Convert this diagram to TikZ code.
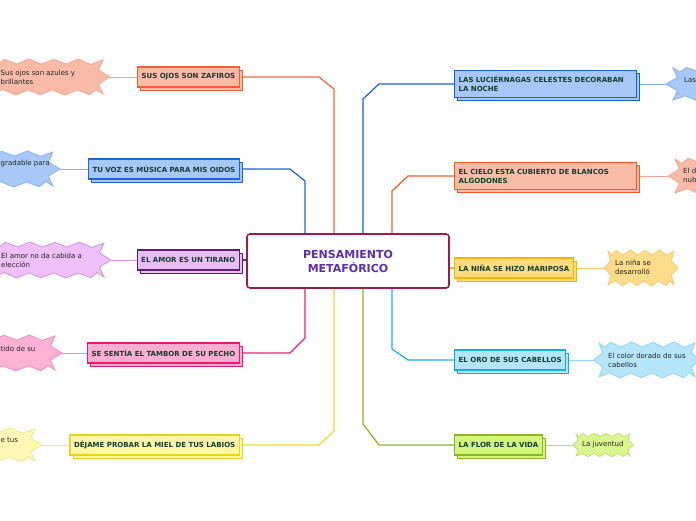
\documentclass[tikz,border=0pt]{standalone}
\usepackage{fontspec}
\setmainfont{DejaVu Sans}
\usetikzlibrary{shadows,calc}
\pgfdeclarelayer{bg}
\pgfsetlayers{bg,main}
% links
\definecolor{lA}{HTML}{F26A3D}\definecolor{lB}{HTML}{1F66D1}\definecolor{lC}{HTML}{6E2C80}
\definecolor{lD}{HTML}{EC1E79}\definecolor{lE}{HTML}{EDD92A}\definecolor{lF}{HTML}{1663D3}
\definecolor{lG}{HTML}{F25C2B}\definecolor{lH}{HTML}{F7B52C}\definecolor{lI}{HTML}{1AAEEA}
\definecolor{lJ}{HTML}{8DB726}
% box fills / borders
\definecolor{fA}{HTML}{F9BCA6}\definecolor{dA}{HTML}{F35E2E}
\definecolor{fB}{HTML}{A7C8F6}\definecolor{dB}{HTML}{1E66D6}
\definecolor{fC}{HTML}{E8BDF4}\definecolor{dC}{HTML}{5E1F70}
\definecolor{fD}{HTML}{F9B0D0}\definecolor{dD}{HTML}{EE1670}
\definecolor{fE}{HTML}{FFF6A6}\definecolor{dE}{HTML}{E9D31E}
\definecolor{fF}{HTML}{A7C8F6}\definecolor{dF}{HTML}{1660DA}
\definecolor{fG}{HTML}{F9BCA6}\definecolor{dG}{HTML}{F3582A}
\definecolor{fH}{HTML}{FEDB7E}\definecolor{dH}{HTML}{F8B400}
\definecolor{fI}{HTML}{B4E5FB}\definecolor{dI}{HTML}{14A9EA}
\definecolor{fJ}{HTML}{D3F57C}\definecolor{dJ}{HTML}{8BB820}
% bursts
\definecolor{sA}{HTML}{F9BBA8}\definecolor{rA}{HTML}{F7A78F}
\definecolor{sB}{HTML}{A8C9F8}\definecolor{rB}{HTML}{86B3F2}
\definecolor{sC}{HTML}{EEBFF9}\definecolor{rC}{HTML}{C99AD6}
\definecolor{sD}{HTML}{FFB2D6}\definecolor{rD}{HTML}{F78DC0}
\definecolor{sE}{HTML}{FFF8B4}\definecolor{rE}{HTML}{F2E58A}
\definecolor{sH}{HTML}{FDDC8B}\definecolor{rH}{HTML}{F6CC6A}
\definecolor{sI}{HTML}{B5E6FC}\definecolor{rI}{HTML}{8ED4F4}
\definecolor{sJ}{HTML}{D9F78F}\definecolor{rJ}{HTML}{BEE06A}
\definecolor{txtg}{HTML}{123D2F}
\definecolor{notetxt}{HTML}{222222}
\definecolor{cb}{HTML}{9E1A4C}
\definecolor{ctext}{HTML}{5C2DB5}
\newcommand\burstshape[5]{%
  \begin{scope}[shift={(#1,#2)},xscale=#3,yscale=#4]
  \filldraw[line width=0.8pt,#5] (1.12,0) -- (0.92,-0.42) -- (1.0,-1.0) -- (0.78,-0.74) -- (0.56,-1.06) -- (0.34,-0.76) -- (0.12,-1.04) -- (-0.1,-0.76) -- (-0.32,-1.06) -- (-0.54,-0.76) -- (-0.76,-1.04) -- (-0.88,-0.74) -- (-1.0,-1.0) -- (-0.92,-0.42) -- (-1.12,0) -- (-0.92,0.42) -- (-1.0,1.0) -- (-0.78,0.74) -- (-0.56,1.06) -- (-0.34,0.76) -- (-0.12,1.04) -- (0.1,0.76) -- (0.32,1.06) -- (0.54,0.76) -- (0.76,1.04) -- (0.88,0.74) -- (1.0,1.0) -- (0.92,0.42) -- cycle;
  \end{scope}}
\tikzset{
  topic/.style 2 args={draw=#1, fill=#2, line width=1.4pt, inner xsep=4pt, inner ysep=3pt,
    minimum height=20pt, text=txtg, font=\bfseries\fontsize{7pt}{9pt}\selectfont, align=left,
    general shadow={shadow xshift=3pt, shadow yshift=-3pt, fill=#2, draw=#1, line width=1pt}},
  wide/.style={text width=174pt, minimum height=27pt},
  note/.style={font=\fontsize{7pt}{9pt}\selectfont, text=notetxt, align=left, inner sep=0pt},
  link/.style={draw=#1, line width=1.2pt},
  sublink/.style={draw=#1, line width=0.9pt},
}
\begin{document}
\begin{tikzpicture}[x=1pt,y=-1pt]
\useasboundingbox (0,0) rectangle (696,520);
\clip (0,0) rectangle (696,520);

% central topic
\node[draw=cb, line width=1.6pt, rounded corners=3pt, fill=white, minimum width=202pt,
  minimum height=54pt, text=ctext, font=\bfseries\fontsize{11pt}{14pt}\selectfont, align=center]
  (c) at (348,261) {PENSAMIENTO\\METAFÓRICO};

% left topics
\node[topic={dA}{fA}, anchor=east] (b1) at (240,77) {SUS OJOS SON ZAFIROS};
\node[topic={dB}{fB}, anchor=east] (b2) at (240,169) {TU VOZ ES MÚSICA PARA MIS OIDOS};
\node[topic={dC}{fC}, anchor=east] (b3) at (240,260) {EL AMOR ES UN TIRANO};
\node[topic={dD}{fD}, anchor=east] (b4) at (240,353) {SE SENTÍA EL TAMBOR DE SU PECHO};
\node[topic={dE}{fE}, anchor=east] (b5) at (240,445) {DÉJAME PROBAR LA MIEL DE TUS LABIOS};
% right topics
\node[topic={dF}{fF}, wide, anchor=west] (b6) at (454,84) {LAS LUCIÉRNAGAS CELESTES DECORABAN\\LA NOCHE};
\node[topic={dG}{fG}, wide, anchor=west] (b7) at (454,176) {EL CIELO ESTA CUBIERTO DE BLANCOS\\ALGODONES};
\node[topic={dH}{fH}, anchor=west] (b8) at (454,268) {LA NIÑA SE HIZO MARIPOSA};
\node[topic={dI}{fI}, anchor=west] (b9) at (454,360) {EL ORO DE SUS CABELLOS};
\node[topic={dJ}{fJ}, anchor=west] (b10) at (454,445) {LA FLOR DE LA VIDA};

% callout texts
\node[note, anchor=west] (n1) at (0.5,77) {Sus ojos son azules y\\brillantes};
\node[note, anchor=west] (n2) at (0.5,164) {gradable para};
\node[note, anchor=west] (n3) at (1,260) {El amor no da cabida a\\elección};
\node[note, anchor=west] (n4) at (0.5,349) {tido de su};
\node[note, anchor=west] (n5) at (0.5,440) {e tus};
\node[note, anchor=west] (n6) at (684,80) {Las};
\node[note, anchor=west] (n7) at (683,175) {El d\\nub};
\node[note, anchor=west] (n8) at (615,267) {La niña se\\desarrolló};
\node[note, anchor=west] (n9) at (608,360) {El color dorado de sus\\cabellos};
\node[note, anchor=west] (n10) at (582,445) {La juventud};

% burst tips
\coordinate (t1) at (110,77);
\coordinate (t2) at (60,169);
\coordinate (t3) at (111,260);
\coordinate (t4) at (62,353);
\coordinate (t5) at (42,445);
\coordinate (t6) at (666,84);
\coordinate (t7) at (668,176);
\coordinate (t8) at (604,268);
\coordinate (t9) at (594,360);
\coordinate (t10) at (573,445);

% bends
\coordinate (j1) at (319,77);  \coordinate (k1) at (334,89);
\coordinate (j2) at (290,169); \coordinate (k2) at (305,181);
\coordinate (j4) at (290,353); \coordinate (k4) at (305,338);
\coordinate (j5) at (319,445); \coordinate (k5) at (334,431);
\coordinate (j6) at (379,84);  \coordinate (k6) at (363,99);
\coordinate (j7) at (408,176); \coordinate (k7) at (392,191);
\coordinate (j9) at (408,360); \coordinate (k9) at (392,349);
\coordinate (j10) at (379,445); \coordinate (k10) at (363,424);

\begin{pgfonlayer}{bg}
\burstshape{47}{77}{56}{17}{fill=sA, draw=rA}
\burstshape{-5}{169}{58}{17}{fill=sB, draw=rB}
\burstshape{48}{260}{56}{17}{fill=sC, draw=rC}
\burstshape{-3}{353}{58}{17}{fill=sD, draw=rD}
\burstshape{-22}{445}{57}{16}{fill=sE, draw=rE}
\burstshape{729}{84}{56}{16}{fill=sB, draw=rB}
\burstshape{731}{176}{56}{17}{fill=sA, draw=rA}
\burstshape{641}{268}{33}{17}{fill=sH, draw=rH}
\burstshape{647}{360}{48}{17}{fill=sI, draw=rI}
\burstshape{603}{445}{27}{11}{fill=sJ, draw=rJ}

\draw[link=lA] (b1.east) -- (j1) -- (k1) -- (k1 |- c.north);
\draw[link=lB] (b2.east) -- (j2) -- (k2) -- (k2 |- c.north);
\draw[link=lC] (b3.east) -- (b3.east -| c.west);
\draw[link=lD] (b4.east) -- (j4) -- (k4) -- (k4 |- c.south);
\draw[link=lE] (b5.east) -- (j5) -- (k5) -- (k5 |- c.south);
\draw[link=lF] (b6.west) -- (j6) -- (k6) -- (k6 |- c.north);
\draw[link=lG] (b7.west) -- (j7) -- (k7) -- (k7 |- c.north);
\draw[link=lH] (c.east |- b8.west) -- (b8.west);
\draw[link=lI] (b9.west) -- (j9) -- (k9) -- (k9 |- c.south);
\draw[link=lJ] (b10.west) -- (j10) -- (k10) -- (k10 |- c.south);

\draw[sublink=rA] (b1.west) -- (t1);
\draw[sublink=rB] (b2.west) -- (t2);
\draw[sublink=rC] (b3.west) -- (t3);
\draw[sublink=rD] (b4.west) -- (t4);
\draw[sublink=rE] (b5.west) -- (t5);
\draw[sublink=rB] (b6.east) -- (t6);
\draw[sublink=rA] (b7.east) -- (t7);
\draw[sublink=rH] (b8.east) -- (t8);
\draw[sublink=rI] (b9.east) -- (t9);
\draw[sublink=rJ] (b10.east) -- (t10);
\end{pgfonlayer}
\end{tikzpicture}
\end{document}
